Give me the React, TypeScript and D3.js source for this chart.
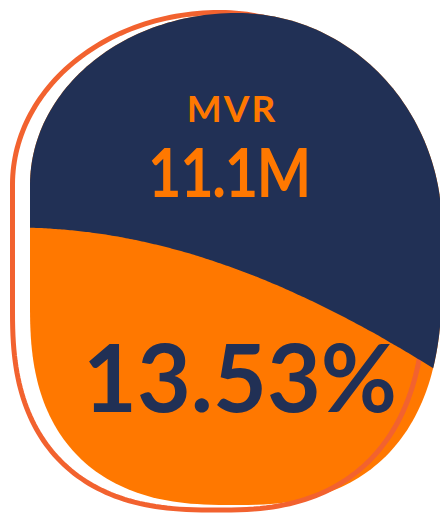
import * as d3 from "d3";
import React from "react";

// data
const metricNames = ["MVR"];
const metricValues = [11.1e6];
const percentValues = [13.53];
const fillLevels = [0.564]; // crest of the wave, share of the shape height

const W = 440;
const H = 515;
const NAVY = "#213055";
const ORANGE = "#FF7800";
const RING = "#F2622F";

type Corner = { rx: number; ry: number; n: number };

// rounded box, each corner a superellipse quarter
function blobPoints(L: number, T: number, R: number, B: number, c: Corner[]) {
  const [tl, tr, br, bl] = c;
  const pts: [number, number][] = [];
  const quarter = (cx: number, cy: number, sx: number, sy: number, k: Corner, from: number, to: number) => {
    d3.range(0, 61).forEach((i) => {
      const t = from + ((to - from) * i) / 60;
      const px = cx + sx * k.rx * Math.pow(Math.abs(Math.cos(t)), 2 / k.n);
      const py = cy + sy * k.ry * Math.pow(Math.abs(Math.sin(t)), 2 / k.n);
      pts.push([px, py]);
    });
  };
  quarter(L + tl.rx, T + tl.ry, -1, -1, tl, 0, Math.PI / 2);
  quarter(R - tr.rx, T + tr.ry, 1, -1, tr, Math.PI / 2, 0);
  quarter(R - br.rx, B - br.ry, 1, 1, br, 0, Math.PI / 2);
  quarter(L + bl.rx, B - bl.ry, -1, 1, bl, Math.PI / 2, 0);
  return pts;
}

const corners: Corner[] = [
  { rx: 206.5, ry: 172, n: 2 },
  { rx: 205, ry: 215, n: 2 },
  { rx: 205, ry: 230, n: 2.5 },
  { rx: 200, ry: 200, n: 2.5 },
];

export default function App() {
  const box = { L: 30, T: 13, R: 442, B: 505 };
  const ring = { L: 12.5, T: 12.5, R: 425, B: 510 };

  const closed = d3.line().curve(d3.curveLinearClosed);
  const shapePath = closed(blobPoints(box.L, box.T, box.R, box.B, corners)) || "";
  const ringPath = closed(blobPoints(ring.L, ring.T, ring.R, ring.B, corners)) || "";

  // level scale: 0 at bottom of the shape, 1 at top
  const level = d3.scaleLinear().domain([0, 1]).range([box.B, box.T]);
  const crestY = level(fillLevels[0]);
  const waveAmp = 344;
  const waveLen = 2800;
  const waveX0 = 15;
  const xs = d3.range(0, W + 1, 4);
  const waveArea = d3
    .area<number>()
    .x((x) => x)
    .y0(0)
    .y1((x) => crestY + waveAmp * (1 - Math.cos(((2 * Math.PI) / waveLen) * (x - waveX0))))
    .curve(d3.curveMonotoneX);

  const fmtM = d3.format(".3~s");
  const fmtP = d3.format(".2f");

  return (
    <svg width={W} height={H} style={{ position: "absolute", left: 0, top: 0 }}>
      <defs>
        <clipPath id="blob">
          <path d={shapePath} />
        </clipPath>
      </defs>
      <path d={shapePath} fill={ORANGE} />
      <path d={ringPath} fill="none" stroke={RING} strokeWidth={5} />
      <g clipPath="url(#blob)">
        <path d={waveArea(xs) || ""} fill={NAVY} />
      </g>
      <g fontFamily="Lato, 'Noto Sans', sans-serif" textAnchor="middle">
        <text x={232} y={122} fill={ORANGE} fontSize={37} fontWeight={700} letterSpacing={2}>
          {metricNames[0]}
        </text>
        <text transform="translate(229,197) scale(0.86,1)" fill={ORANGE} fontSize={67} fontWeight={700} letterSpacing={-1.5}>
          {fmtM(metricValues[0])}
        </text>
        <text x={240} y={412} fill={NAVY} fontSize={93} fontWeight={700}>
          {fmtP(percentValues[0]) + "%"}
        </text>
      </g>
    </svg>
  );
}
